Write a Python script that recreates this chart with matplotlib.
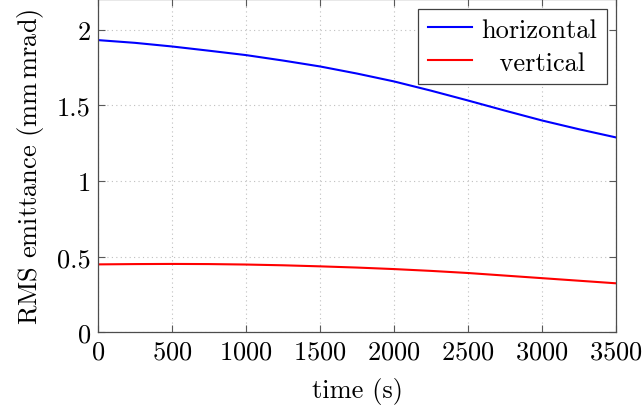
import matplotlib
matplotlib.use('Agg')
import matplotlib.pyplot as plt

plt.rcParams['font.family'] = 'serif'
plt.rcParams['font.serif'] = ['cmr10', 'DejaVu Serif']
plt.rcParams['mathtext.fontset'] = 'cm'
plt.rcParams['axes.formatter.use_mathtext'] = True

# emittance at 250 s steps
time = [0, 250, 500, 750, 1000, 1250, 1500, 1750, 2000,
        2250, 2500, 2750, 3000, 3250, 3500]
horizontal = [1.931, 1.913, 1.889, 1.861, 1.832, 1.796, 1.757, 1.710, 1.658,
              1.597, 1.532, 1.465, 1.400, 1.342, 1.288]
vertical = [0.449, 0.451, 0.452, 0.451, 0.448, 0.443, 0.436, 0.428, 0.418,
            0.406, 0.392, 0.375, 0.358, 0.341, 0.324]

fig = plt.figure(figsize=(6.44, 4.10), dpi=100)
ax = fig.add_axes([0.1522, 0.187, 0.8043, 0.812])

ax.plot(time, horizontal, color='#0000ff', lw=1.5, label='horizontal')
ax.plot(time, vertical, color='#ff0000', lw=1.5, label='  vertical')

ax.set_xlim(0, 3500)
ax.set_ylim(0, 2.2)
ax.set_xticks([0, 500, 1000, 1500, 2000, 2500, 3000, 3500])
ax.set_yticks([0, 0.5, 1, 1.5, 2])
ax.set_yticklabels(['0', '0.5', '1', '1.5', '2'])

ax.grid(True, linestyle=(0, (1, 3)), color='0.75', lw=0.8)
ax.tick_params(direction='in', top=True, right=True, length=5, width=0.8,
               color='0.35', labelsize=19, pad=5)
for s in ax.spines.values():
    s.set_color('0.3')
    s.set_linewidth(0.9)

ax.set_xlabel('time (s)', fontsize=19, labelpad=10)
ax.set_ylabel(r'RMS emittance (mm$\,$mrad)', fontsize=19, labelpad=8)

leg = ax.legend(loc='upper right', fontsize=19, fancybox=False, framealpha=1,
                edgecolor='0.25', handlelength=1.7, handletextpad=0.35,
                borderpad=0.35, labelspacing=0.35, borderaxespad=0.35)
leg.get_frame().set_linewidth(0.9)

fig.savefig('out.png', dpi=100)
